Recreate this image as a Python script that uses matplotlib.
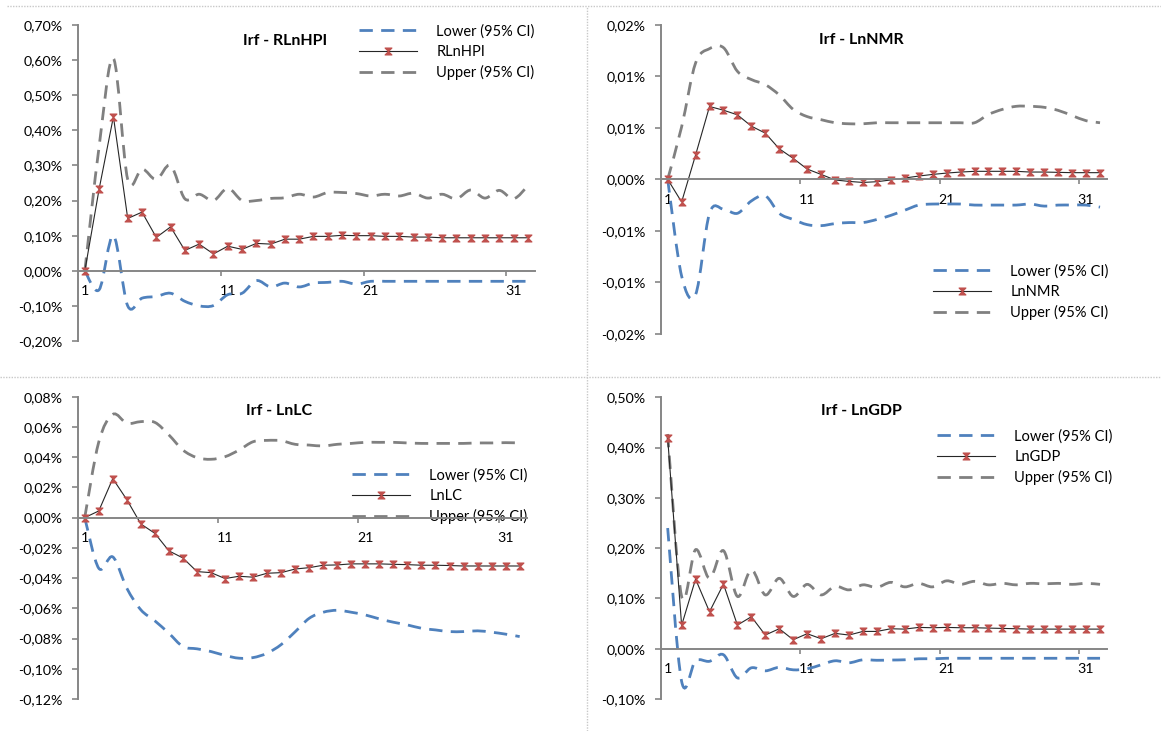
import matplotlib
matplotlib.use("Agg")
import matplotlib.pyplot as plt
from matplotlib.path import Path
from matplotlib.patches import PathPatch
from matplotlib.lines import Line2D

plt.rcParams['font.family'] = ['Lato', 'DejaVu Sans']

# impulse responses, values in percent, periods 1..32
periods = list(range(1, 33))
period_labels = ['1', '11', '21', '31']

hpi_lower = [0, -0.054, 0.10, -0.10, -0.078, -0.073, -0.064, -0.087, -0.10, -0.099,
             -0.068, -0.064, -0.028, -0.046, -0.035, -0.046, -0.035, -0.033, -0.030, -0.038,
             -0.030, -0.030, -0.030, -0.030, -0.030, -0.030, -0.030, -0.030, -0.030, -0.030,
             -0.030, -0.030]
hpi_irf = [0, 0.233, 0.439, 0.149, 0.167, 0.095, 0.125, 0.058, 0.076, 0.048,
           0.070, 0.061, 0.078, 0.076, 0.090, 0.090, 0.098, 0.098, 0.101, 0.100,
           0.100, 0.098, 0.098, 0.096, 0.096, 0.094, 0.094, 0.094, 0.094, 0.094,
           0.094, 0.094]
hpi_upper = [0, 0.354, 0.605, 0.26, 0.29, 0.26, 0.30, 0.205, 0.218, 0.20,
             0.235, 0.20, 0.20, 0.206, 0.208, 0.218, 0.21, 0.223, 0.223, 0.22,
             0.213, 0.218, 0.213, 0.221, 0.207, 0.218, 0.205, 0.23, 0.207, 0.229,
             0.205, 0.242]

nmr_lower = [0, -0.0094, -0.0112, -0.0033, -0.0029, -0.0033, -0.0021, -0.0016, -0.0033, -0.0039,
             -0.0044, -0.0045, -0.0043, -0.0042, -0.0042, -0.0039, -0.0035, -0.0030, -0.0025, -0.0024,
             -0.0024, -0.0024, -0.0025, -0.0025, -0.0025, -0.0025, -0.0024, -0.0026, -0.0025, -0.0025,
             -0.0025, -0.0027]
nmr_irf = [0, -0.0022, 0.00236, 0.00708, 0.00672, 0.00627, 0.00517, 0.00449, 0.00297, 0.00204,
           0.0010, 0.00048, -0.00006, -0.0002, -0.0003, -0.00023, -0.00006, 0.00013, 0.00032, 0.00048,
           0.00061, 0.00071, 0.00078, 0.00078, 0.00078, 0.00078, 0.00071, 0.00071, 0.00068, 0.00065,
           0.00065, 0.00065]
nmr_upper = [0, 0.0051, 0.0113, 0.0127, 0.0128, 0.0105, 0.0097, 0.0092, 0.0082, 0.0068,
             0.0061, 0.0058, 0.0055, 0.0054, 0.0054, 0.0055, 0.0055, 0.0055, 0.0055, 0.0055,
             0.0055, 0.0055, 0.0055, 0.0063, 0.0068, 0.0071, 0.0071, 0.0070, 0.0067, 0.0062,
             0.0057, 0.0055]

lc_lower = [0, -0.0335, -0.026, -0.0467, -0.061, -0.0683, -0.0765, -0.0853, -0.0868, -0.0886,
            -0.0912, -0.093, -0.0926, -0.0897, -0.084, -0.0755, -0.0666, -0.0626, -0.0613, -0.0626,
            -0.0644, -0.067, -0.0692, -0.071, -0.0732, -0.0743, -0.0754, -0.0754, -0.0749, -0.0758,
            -0.0771, -0.0787]
lc_irf = [0, 0.0044, 0.0258, 0.0119, -0.0042, -0.0104, -0.0220, -0.0267, -0.0357, -0.0364,
          -0.0403, -0.0388, -0.0394, -0.0368, -0.0364, -0.0340, -0.0331, -0.0315, -0.0313, -0.0306,
          -0.0306, -0.0306, -0.0309, -0.0311, -0.0315, -0.0315, -0.0317, -0.0320, -0.0320, -0.0320,
          -0.0320, -0.0320]
lc_upper = [0, 0.050, 0.0683, 0.0624, 0.0635, 0.063, 0.0547, 0.0447, 0.0397, 0.0386,
            0.0403, 0.0447, 0.0502, 0.0511, 0.0509, 0.0485, 0.0480, 0.0474, 0.0485, 0.0491,
            0.0498, 0.0498, 0.0498, 0.0494, 0.0491, 0.0491, 0.0491, 0.0491, 0.0494, 0.0494,
            0.0496, 0.0494]

gdp_lower = [0.24, -0.065, -0.024, -0.025, -0.012, -0.058, -0.038, -0.044, -0.037, -0.042,
             -0.040, -0.032, -0.024, -0.028, -0.022, -0.023, -0.0225, -0.022, -0.020, -0.020,
             -0.019, -0.019, -0.019, -0.019, -0.019, -0.019, -0.019, -0.019, -0.019, -0.019,
             -0.019, -0.019]
gdp_irf = [0.419, 0.0464, 0.1384, 0.0735, 0.1285, 0.047, 0.0636, 0.0272, 0.0397, 0.0179,
           0.0298, 0.0199, 0.0305, 0.0272, 0.0344, 0.0344, 0.0397, 0.039, 0.0424, 0.0417,
           0.0424, 0.0417, 0.0417, 0.041, 0.0404, 0.0397, 0.039, 0.039, 0.039, 0.039,
           0.039, 0.039]
gdp_upper = [0.427, 0.104, 0.197, 0.14, 0.195, 0.104, 0.157, 0.107, 0.14, 0.104,
             0.128, 0.107, 0.124, 0.117, 0.127, 0.122, 0.132, 0.123, 0.130, 0.123,
             0.135, 0.128, 0.134, 0.127, 0.130, 0.127, 0.130, 0.129, 0.130, 0.128,
             0.130, 0.128]

hpi_ticks = [-0.2, -0.1, 0, 0.1, 0.2, 0.3, 0.4, 0.5, 0.6, 0.7]
hpi_tick_labels = ['-0,20%', '-0,10%', '0,00%', '0,10%', '0,20%', '0,30%', '0,40%', '0,50%', '0,60%', '0,70%']
nmr_ticks = [-0.015, -0.01, -0.005, 0, 0.005, 0.01, 0.015]
nmr_tick_labels = ['-0,02%', '-0,01%', '-0,01%', '0,00%', '0,01%', '0,01%', '0,02%']
lc_ticks = [-0.12, -0.10, -0.08, -0.06, -0.04, -0.02, 0, 0.02, 0.04, 0.06, 0.08]
lc_tick_labels = ['-0,12%', '-0,10%', '-0,08%', '-0,06%', '-0,04%', '-0,02%', '0,00%', '0,02%', '0,04%', '0,06%', '0,08%']
gdp_ticks = [-0.1, 0, 0.1, 0.2, 0.3, 0.4, 0.5]
gdp_tick_labels = ['-0,10%', '0,00%', '0,10%', '0,20%', '0,30%', '0,40%', '0,50%']

W, H = 1161, 731
BLUE = '#4F81BD'
GRAY = '#808080'
RED = '#C0504D'
DARK = '#262626'
AXIS = '#868686'
DASH = (0, (4.8, 3.0))

HOURGLASS = Path([(-1, 1), (1, 1), (-1, -1), (1, -1), (-1, 1)],
                 [Path.MOVETO, Path.LINETO, Path.LINETO, Path.LINETO, Path.CLOSEPOLY])

fig = plt.figure(figsize=(W / 100, H / 100), dpi=100)


def smooth(x, y):
    # bezier path through the points, like excel's smoothed line
    n = len(x)
    verts = [(x[0], y[0])]
    codes = [Path.MOVETO]
    for i in range(n - 1):
        xa, ya = (x[i - 1], y[i - 1]) if i > 0 else (x[i], y[i])
        xb, yb = (x[i + 2], y[i + 2]) if i + 2 < n else (x[i + 1], y[i + 1])
        verts.append((x[i] + (x[i + 1] - xa) / 6, y[i] + (y[i + 1] - ya) / 6))
        verts.append((x[i + 1] - (xb - x[i]) / 6, y[i + 1] - (yb - y[i]) / 6))
        verts.append((x[i + 1], y[i + 1]))
        codes += [Path.CURVE4] * 3
    return Path(verts, codes)


def panel(box, title, title_xy, name, lower, irf, upper, ticks, tick_labels, legend_xy):
    left, right, top, bottom = box
    ax = fig.add_axes([left / W, 1 - bottom / H, (right - left) / W, (bottom - top) / H])
    ax.patch.set_alpha(0)
    ax.add_patch(PathPatch(smooth(periods, lower), fill=False, ec=BLUE, lw=2, ls=DASH, zorder=2))
    ax.add_patch(PathPatch(smooth(periods, upper), fill=False, ec=GRAY, lw=2, ls=DASH, zorder=2))
    ax.plot(periods, irf, color=DARK, lw=0.8, marker=HOURGLASS, ms=5, mfc=RED, mec=RED, mew=0.8, zorder=3)
    ax.set_xlim(0.5, 32.5)
    ax.set_ylim(ticks[0], ticks[-1])

    for side in ['top', 'right']:
        ax.spines[side].set_visible(False)
    ax.spines['bottom'].set_position(('data', 0))
    for side in ['left', 'bottom']:
        ax.spines[side].set_color(AXIS)
        ax.spines[side].set_linewidth(1.4)
    ax.spines['bottom'].set_zorder(4)

    ax.set_yticks(ticks)
    ax.set_yticklabels(tick_labels)
    ax.tick_params(axis='y', direction='out', length=4, width=1.2, color=AXIS, pad=7,
                   labelsize=10.2, labelcolor='black')
    ax.set_xticks([10.5, 20.5, 30.5])
    ax.set_xticklabels([])
    ax.tick_params(axis='x', which='major', direction='out', length=3.5, width=1.2, color=AXIS)
    ax.set_xticks([1, 11, 21, 31], minor=True)
    ax.set_xticklabels(period_labels, minor=True)
    ax.tick_params(axis='x', which='minor', length=0, pad=10.5, labelsize=10.2, labelcolor='black')

    fig.text(title_xy[0] / W, 1 - title_xy[1] / H, title, ha='center', va='center',
             fontsize=11.5, fontweight='bold')

    handles = [Line2D([], [], color=BLUE, lw=2, ls=DASH),
               Line2D([], [], color=DARK, lw=0.8, marker=HOURGLASS, ms=5, mfc=RED, mec=RED, mew=0.8),
               Line2D([], [], color=GRAY, lw=2, ls=DASH)]
    leg = ax.legend(handles, ['Lower (95% CI)', name, 'Upper (95% CI)'], loc='center left',
                    bbox_to_anchor=(legend_xy[0] / W, 1 - legend_xy[1] / H),
                    bbox_transform=fig.transFigure, frameon=False, borderpad=0, borderaxespad=0,
                    handlelength=4.0, handletextpad=1.3, labelspacing=0.42, fontsize=10.5, numpoints=1)
    leg.set_zorder(1)
    return ax


panel((77.7, 535, 25, 341), 'Irf - RLnHPI', (285, 41), 'RLnHPI',
      hpi_lower, hpi_irf, hpi_upper, hpi_ticks, hpi_tick_labels, (359, 52))
panel((660.7, 1107, 25, 333.7), 'Irf - LnNMR', (861, 40), 'LnNMR',
      nmr_lower, nmr_irf, nmr_upper, nmr_ticks, nmr_tick_labels, (933, 292))
panel((77.7, 526.7, 396.7, 699), 'Irf - LnLC', (279, 411), 'LnLC',
      lc_lower, lc_irf, lc_upper, lc_ticks, lc_tick_labels, (352, 496))
panel((660.7, 1107, 397.3, 699), 'Irf - LnGDP', (861, 411), 'LnGDP',
      gdp_lower, gdp_irf, gdp_upper, gdp_ticks, gdp_tick_labels, (937, 457))

# dotted chart borders
border = dict(transform=fig.transFigure, color='#C8C8C8', lw=1, ls=(0, (1, 1)))
fig.add_artist(Line2D([7 / W, 1], [1 - 6 / H, 1 - 6 / H], **border))
fig.add_artist(Line2D([0, 1], [1 - 377 / H, 1 - 377 / H], **border))
fig.add_artist(Line2D([587 / W, 587 / W], [0, 1 - 6 / H], **border))

fig.savefig('out.png', dpi=100)
